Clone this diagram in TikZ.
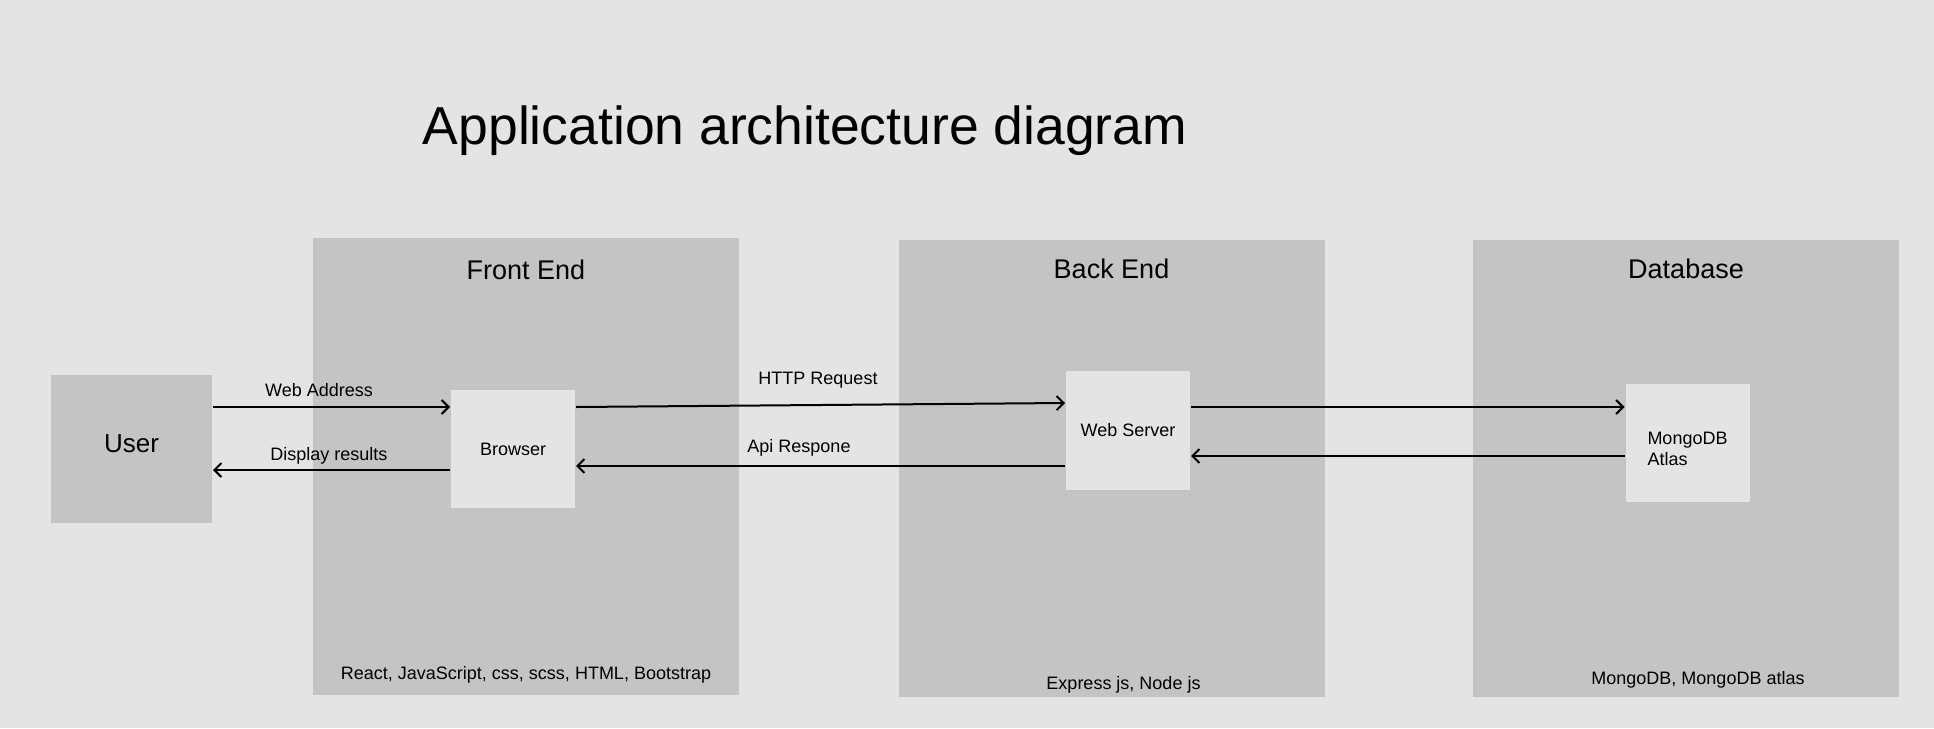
\documentclass[tikz,border=0pt]{standalone}
\usepackage{fontspec}
\setmainfont{Liberation Sans}
\usetikzlibrary{arrows.meta, positioning}
\definecolor{cback}{HTML}{E4E4E4}
\definecolor{cpanel}{HTML}{C4C4C4}
\tikzset{
  every picture/.style={x=1pt, y=-1pt, line width=2pt},
  panel/.style={fill=cpanel, draw=none, inner sep=0pt, minimum width=426pt, minimum height=457pt},
  part/.style={fill=cback, draw=none, inner sep=0pt, minimum width=124pt, minimum height=118pt, font=\fontsize{18}{21}\selectfont},
  head/.style={font=\fontsize{27}{32}\selectfont, anchor=north},
  stack/.style={font=\fontsize{18}{21}\selectfont, anchor=south},
  arrow/.style={-{Straight Barb[length=7pt, width=14pt, line width=2pt]}, draw=black},
  label/.style={font=\fontsize{18}{21}\selectfont},
}
\begin{document}
\begin{tikzpicture}
  \useasboundingbox[fill=cback] (0,0) rectangle (1934,728);
  \node[font=\fontsize{53.5}{64}\selectfont] (title) at (805,131) {Application architecture diagram};
  % three layers
  \node[panel] (front) at (526,466) {};
  \node[head] (fronthead) at ([yshift=-19pt]front.north) {Front End};
  \node[stack] (frontstack) at ([yshift=8pt]front.south) {React, JavaScript, css, scss, HTML, Bootstrap};
  \node[panel] (back) at (1111.5,468.5) {};
  \node[head] (backhead) at ([yshift=-16pt]back.north) {Back End};
  \node[stack] (backstack) at ([xshift=12pt, yshift=0pt]back.south) {Express js, Node js};
  \node[panel] (data) at (1686,468.5) {};
  \node[head] (datahead) at ([yshift=-16pt]data.north) {Database};
  \node[stack] (datastack) at ([xshift=12pt, yshift=5pt]data.south) {MongoDB, MongoDB atlas};
  % parts
  \node[panel, minimum width=161pt, minimum height=148pt] (user) at (131.5,449) {};
  \node[font=\fontsize{26}{30}\selectfont] (usertext) at ([yshift=5pt]user.center) {User};
  \node[part] (browser) at (513,449) {Browser};
  \node[part, minimum height=119pt] (server) at (1128,430.5) {Web Server};
  \node[part] (mongo) at (1687.5,443) {};
  \node[label, align=left] (mongotext) at ([yshift=-6pt]mongo.center) {MongoDB\\Atlas};
  % requests and replies
  \draw[arrow] ([yshift=42pt]user.east) -- ([yshift=42pt]browser.west);
  \node[label] (addr) at (319,390) {Web Address};
  \draw[arrow] ([yshift=-21pt]browser.west) -- ([yshift=-21pt]user.east);
  \node[label] (show) at (329,456) {Display results};
  \draw[arrow] ([yshift=42pt]browser.east) -- ([yshift=27.5pt]server.west);
  \node[label] (http) at (818,380) {HTTP Request};
  \draw[arrow] ([yshift=-35.5pt]server.west) -- ([yshift=-17pt]browser.east);
  \node[label] (api) at (799,448) {Api Respone};
  \draw[arrow] ([yshift=23.5pt]server.east) -- ([yshift=36pt]mongo.west);
  \draw[arrow] ([yshift=-13pt]mongo.west) -- ([yshift=-25.5pt]server.east);
\end{tikzpicture}
\end{document}
